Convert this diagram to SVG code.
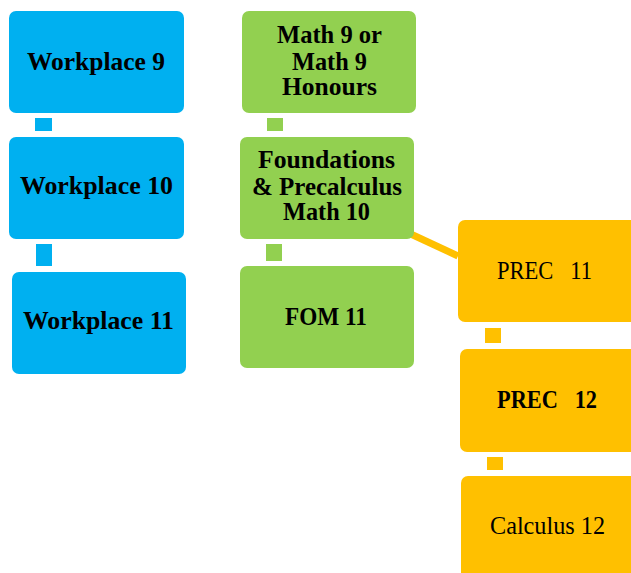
<svg xmlns="http://www.w3.org/2000/svg" width="631" height="573" viewBox="0 0 631 573">
<style>
.b{fill:#00B0F0}.g{fill:#92D050}.o{fill:#FFC000}
text{font-family:"Liberation Serif","Times New Roman",serif;font-size:25px;fill:#000;text-anchor:middle}
.bold{font-weight:bold}
</style>
<rect width="631" height="573" fill="#fff"/>
<g id="connectors">
<rect class="b" x="35" y="118" width="17" height="13"/>
<rect class="b" x="36" y="244" width="16" height="22"/>
<rect class="g" x="267" y="118" width="16" height="13"/>
<rect class="g" x="266" y="244" width="16" height="17"/>
<rect class="o" x="485" y="328" width="16" height="15"/>
<rect class="o" x="487" y="457" width="16" height="13"/>
<line x1="400" y1="229" x2="458" y2="256" stroke="#FFC000" stroke-width="7"/>
</g>
<g id="workplace9"><rect class="b" x="9" y="11" width="175" height="102" rx="7"/><text class="bold" x="96" y="70" textLength="138" lengthAdjust="spacingAndGlyphs">Workplace 9</text></g>
<g id="workplace10"><rect class="b" x="9" y="137" width="175" height="102" rx="7"/><text class="bold" x="96.5" y="194" textLength="153" lengthAdjust="spacingAndGlyphs">Workplace 10</text></g>
<g id="workplace11"><rect class="b" x="12" y="272" width="174" height="102" rx="7"/><text class="bold" x="98.5" y="329" textLength="151" lengthAdjust="spacingAndGlyphs">Workplace 11</text></g>
<g id="math9"><rect class="g" x="242" y="11" width="174" height="102" rx="7"/>
<text class="bold" x="329.5" y="43" textLength="105" lengthAdjust="spacingAndGlyphs">Math 9 or</text>
<text class="bold" x="329.5" y="70" textLength="75" lengthAdjust="spacingAndGlyphs">Math 9</text>
<text class="bold" x="329.5" y="95" textLength="95" lengthAdjust="spacingAndGlyphs">Honours</text></g>
<g id="math10"><rect class="g" x="240" y="137" width="174" height="102" rx="7"/>
<text class="bold" x="326.5" y="168" textLength="137" lengthAdjust="spacingAndGlyphs">Foundations</text>
<text class="bold" x="327" y="195" textLength="150" lengthAdjust="spacingAndGlyphs">&amp; Precalculus</text>
<text class="bold" x="326.5" y="220" textLength="87" lengthAdjust="spacingAndGlyphs">Math 10</text></g>
<g id="fom11"><rect class="g" x="240" y="266" width="174" height="102" rx="7"/><text class="bold" x="326" y="325" textLength="82" lengthAdjust="spacingAndGlyphs">FOM 11</text></g>
<g id="prec11"><rect class="o" x="458" y="220" width="180" height="102" rx="7"/><text x="544.5" y="279" textLength="95" lengthAdjust="spacingAndGlyphs" xml:space="preserve">PREC   11</text></g>
<g id="prec12"><rect class="o" x="460" y="349" width="180" height="103" rx="7"/><text class="bold" x="547" y="408" textLength="100" lengthAdjust="spacingAndGlyphs" xml:space="preserve">PREC   12</text></g>
<g id="calc12"><rect class="o" x="461" y="476" width="180" height="110" rx="7"/><text x="547.5" y="534" textLength="115" lengthAdjust="spacingAndGlyphs">Calculus 12</text></g>
</svg>
